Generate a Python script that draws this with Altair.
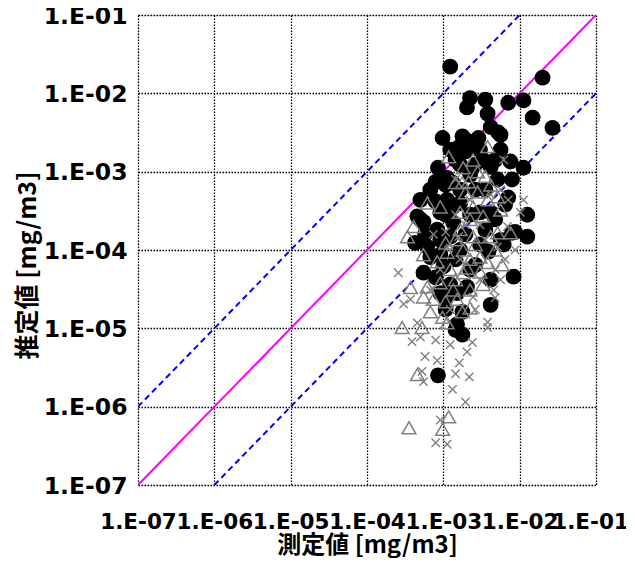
import altair as alt
import pandas as pd

# ---- values, stored as log10 exponents ----
# Series A: black filled circles
circ_meas_log = [-2.91, -1.70, -2.65, -2.45, -2.69, -2.15, -1.95, -2.42, -1.83, -1.57,
                 -2.25, -2.12, -3.01, -2.75, -2.38, -2.28, -2.54, -2.61, -2.71, -2.52,
                 -3.07, -3.10, -2.95, -1.95, -2.10, -2.38, -2.29, -3.34, -3.26, -3.37,
                 -3.21, -2.95, -3.04, -2.87, -1.90, -1.90, -2.10, -2.21, -2.08, -2.78,
                 -2.52, -3.17, -3.00, -3.26, -2.82, -2.80, -2.62, -2.97, -2.15, -3.10,
                 -2.38, -3.10, -3.04, -2.69, -2.75, -2.82, -2.41, -2.84, -2.75, -3.07,
                 -2.48, -2.88, -3.08, -2.87, -2.91, -2.38, -2.06, -3.30, -2.65, -2.78,
                 -2.25, -2.58, -2.71, -2.52, -2.84, -2.65, -2.97, -3.04,
                 -2.91, -2.84, -2.58, -2.45, -2.78, -2.97, -2.65, -2.32, -3.24, -2.45,
                 -2.25, -2.78, -3.04, -2.58, -2.91, -2.38, -3.17, -3.30, -2.19, -2.71,
                 -2.32, -2.97]
circ_est_log = [-1.66, -1.80, -2.06, -2.08, -2.18, -2.12, -2.09, -2.26, -2.31, -2.44,
                -2.53, -2.87, -2.57, -2.55, -2.43, -2.50, -2.57, -2.62, -2.74, -2.72,
                -2.95, -3.13, -3.08, -2.95, -3.10, -2.94, -3.10, -3.57, -3.64, -3.91,
                -3.96, -3.36, -3.52, -3.65, -3.55, -3.83, -3.78, -3.93, -4.34, -3.40,
                -3.52, -4.09, -4.21, -4.29, -4.55, -2.69, -2.68, -3.17, -3.33, -3.38,
                -4.70, -4.35, -4.55, -4.47, -4.79, -4.95, -4.02, -5.02, -5.08, -5.60,
                -2.85, -3.14, -3.74, -3.45, -3.83, -3.52, -3.77, -3.61, -3.04, -2.91,
                -2.72, -3.23, -3.80, -3.93, -4.12, -4.25, -4.76, -3.87,
                -2.72, -2.85, -2.91, -3.23, -3.23, -3.55, -3.55, -3.61, -3.80, -3.74,
                -3.87, -4.00, -4.06, -4.19, -4.44, -4.38, -3.23, -3.36, -3.42, -2.59,
                -2.85, -4.63]

# Series B: grey open triangles
tri_meas_log = [-2.42, -2.93, -2.61, -2.74, -2.55, -2.45, -2.75, -2.67, -3.21, -3.04,
                -3.39, -3.47, -2.71, -2.55, -2.42, -2.29, -2.61, -2.78, -2.48, -2.65,
                -2.74, -2.95, -2.52, -2.42, -2.23, -3.26, -3.43, -3.21, -2.91, -2.74,
                -2.38, -2.29, -2.78, -2.61, -2.12, -2.25, -3.26, -3.17, -3.54, -3.28,
                -3.01, -2.95, -2.65, -2.75, -3.34, -3.45, -2.93, -3.01, -2.48, -2.97,
                -2.82, -2.84, -2.38, -2.58, -2.84, -3.08, -2.65, -2.32, -2.84, -3.04,
                -2.65, -3.13, -2.87, -2.52, -2.97, -2.69]
tri_est_log = [-2.68, -2.81, -2.85, -2.95, -3.00, -3.06, -3.14, -3.13, -3.40, -3.45,
               -3.70, -3.83, -3.27, -3.26, -3.36, -3.32, -3.45, -3.52, -3.57, -3.61,
               -4.00, -4.03, -4.09, -4.16, -4.19, -4.06, -4.48, -4.47, -4.25, -4.29,
               -3.83, -3.78, -3.74, -3.83, -3.78, -3.49, -4.60, -4.79, -4.99, -4.99,
               -4.86, -4.93, -4.74, -4.79, -5.59, -6.27, -6.13, -6.29, -4.44, -4.66,
               -4.63, -3.14, -3.17, -3.93, -3.87, -4.15, -4.12, -4.00, -4.38, -4.42,
               -4.51, -4.63, -4.51, -4.28, -3.91, -4.23]

# Series C: grey crosses
crs_meas_log = [-2.21, -2.84, -2.38, -2.25, -1.95, -2.15, -3.59, -3.13, -2.16, -2.29,
                -2.80, -2.52, -2.71, -3.52, -3.34, -3.41, -3.10, -3.30, -2.91, -2.62,
                -2.69, -3.24, -3.08, -2.79, -3.28, -3.26, -2.84, -2.66, -2.88, -2.71,
                -3.04, -3.10, -2.95, -2.42, -2.42, -2.34, -2.32, -2.61, -1.99, -2.84,
                -2.65, -2.45, -2.32, -2.52, -2.78, -3.04, -3.17, -3.43, -2.19, -2.58,
                -2.91, -2.25, -2.06, -2.97]
crs_est_log = [-2.85, -3.10, -3.29, -3.23, -3.36, -3.36, -4.29, -3.80, -3.70, -3.96,
               -3.83, -3.68, -3.68, -4.69, -4.93, -5.17, -5.15, -5.11, -5.21, -5.18,
               -5.30, -5.36, -5.41, -5.44, -5.55, -5.68, -5.58, -5.62, -5.78, -5.94,
               -6.17, -6.46, -6.48, -4.92, -4.99, -4.51, -4.61, -4.60, -3.52, -3.55,
               -3.36, -3.87, -4.25, -4.38, -4.12, -4.25, -4.51, -4.63, -4.12, -4.76,
               -4.76, -4.38, -4.00, -3.77]

tick_exponents = [-7, -6, -5, -4, -3, -2, -1]
ref_factors = {"1:1": 1.0, "x10": 10.0, "x0.1": 0.1}

# ---- tables ----
def to_df(xs, ys):
    return pd.DataFrame({"meas": [10.0 ** v for v in xs], "est": [10.0 ** v for v in ys]})

circ_df = to_df(circ_meas_log, circ_est_log)
tri_df = to_df(tri_meas_log, tri_est_log)
crs_df = to_df(crs_meas_log, crs_est_log)

lo, hi = 10.0 ** tick_exponents[0], 10.0 ** tick_exponents[-1]
rows = []
for name, f in ref_factors.items():
    x0 = max(lo, lo / f)
    x1 = min(hi, hi / f)
    rows.append({"g": name, "meas": x0, "est": x0 * f})
    rows.append({"g": name, "meas": x1, "est": x1 * f})
ref_df = pd.DataFrame(rows)

ticks = [10.0 ** e for e in tick_exponents]
label_expr = "'1.E-0' + format(-round(log(datum.value) / LN10), 'd')"

x_axis = alt.Axis(values=ticks, labelExpr=label_expr, grid=True, gridColor="black",
                  gridDash=[1.5, 1.5], gridWidth=1.3, gridOpacity=1, ticks=False, tickSize=0,
                  domain=False, labelFont="DejaVu Sans", labelFontWeight="bold",
                  labelFontSize=21.5, labelColor="black", labelPadding=26,
                  labelOffset={"condition": {"test": "datum.value > 0.05", "value": -6}, "value": 0},
                  labelOverlap=False, labelFlush=False, labelBound=False,
                  title="測定値 [mg/m3]", titleFont="Noto Sans CJK JP",
                  titleFontSize=24, titleFontWeight="bold", titleColor="black",
                  titleX=229, titleY=60, titleBaseline="middle", titleAlign="center")
y_axis = alt.Axis(values=ticks, labelExpr=label_expr, grid=True, gridColor="black",
                  gridDash=[1.5, 1.5], gridWidth=1.3, gridOpacity=1, ticks=False, tickSize=0,
                  domain=False, labelFont="DejaVu Sans", labelFontWeight="bold",
                  labelFontSize=23.5, labelColor="black", labelPadding=11, labelOffset=1,
                  labelOverlap=False, labelFlush=False, labelBound=False,
                  title="推定値 [mg/m3]", titleFont="Noto Sans CJK JP",
                  titleFontSize=25, titleFontWeight="bold", titleColor="black",
                  titleAngle=270, titleX=-111, titleY=250, titleBaseline="middle",
                  titleAlign="center")

xs = alt.Scale(type="log", domain=[lo, hi], nice=False)
ys = alt.Scale(type="log", domain=[lo, hi], nice=False)

def X():
    return alt.X("meas:Q", scale=xs, axis=x_axis)

def Y():
    return alt.Y("est:Q", scale=ys, axis=y_axis)

one = alt.Chart(ref_df[ref_df.g == "1:1"]).mark_line(color="#FF00FF", strokeWidth=2, clip=True).encode(
    x=X(), y=Y(), detail="g:N")
dash = alt.Chart(ref_df[ref_df.g != "1:1"]).mark_line(color="#0000FF", strokeWidth=2,
                                                     strokeDash=[6, 4], clip=True).encode(
    x=X(), y=Y(), detail="g:N")

circ = alt.Chart(circ_df).mark_point(shape="circle", filled=True, color="black", size=250,
                                     opacity=1).encode(x=X(), y=Y())
tri = alt.Chart(tri_df).mark_point(shape="triangle-up", filled=False, color="#808080",
                                   size=190, strokeWidth=1.5, opacity=1).encode(x=X(), y=Y())
crs = alt.Chart(crs_df).mark_point(shape="M-1,-1L1,1M-1,1L1,-1", filled=False, color="#808080",
                                   size=70, strokeWidth=1.4, opacity=1).encode(x=X(), y=Y())

chart = alt.layer(one, dash, circ, tri, crs).properties(
    width=458, height=470,
    autosize=alt.AutoSizeParams(type="none"),
    padding={"left": 130, "top": 7, "right": 30, "bottom": 73},
).configure_view(stroke="black", strokeWidth=1.5).configure(background="white")

chart.save("out.html", embed_options={"renderer": "svg", "actions": False})
